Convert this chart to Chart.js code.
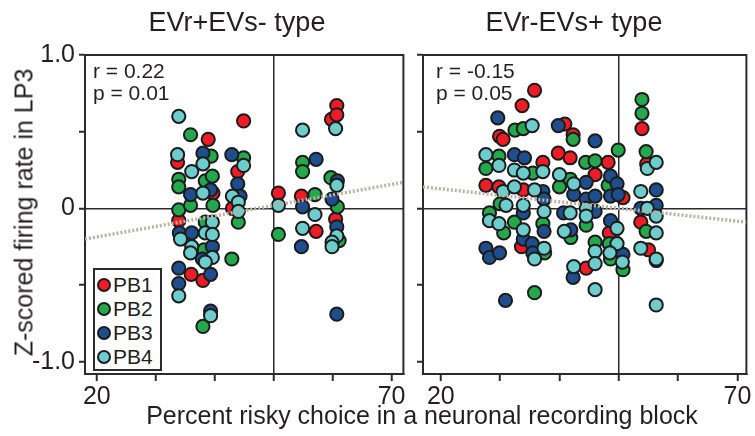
<!DOCTYPE html>
<html>
<head>
<meta charset="utf-8">
<script src="https://cdn.jsdelivr.net/npm/chart.js@4.4.1/dist/chart.umd.min.js"></script>
<style>
  html, body { margin: 0; padding: 0; background: #fff; }
  body { width: 755px; height: 436px; position: relative; overflow: hidden;
         font-family: "Liberation Sans", Arial, sans-serif; color: #231f20; }
  canvas { position: absolute; top: 0; }
  .txt { position: absolute; white-space: nowrap; line-height: 1; }
  .title { font-size: 27px; width: 300px; text-align: center; top: 9px; }
  .stat { font-size: 21px; line-height: 22px; top: 60px; }
  #legend { position: absolute; left: 93px; top: 268px; width: 65px; height: 99px;
            border: 2px solid #2b2b2b; background: #fff; }
  .row { position: absolute; left: 2px; height: 24px; line-height: 24px; font-size: 21px; }
  .dot { display: inline-block; width: 10px; height: 10px; border: 2px solid #1c1c1c;
         border-radius: 50%; vertical-align: middle; margin: -3px 2px 0 0; }
</style>
</head>
<body>
<canvas id="left" width="412" height="436" style="left:0"></canvas>
<canvas id="right" width="343" height="436" style="left:412px"></canvas>

<div class="txt title" style="left:87px">EVr+EVs- type</div>
<div class="txt title" style="left:424px">EVr-EVs+ type</div>
<div class="txt stat" style="left:93px">r = 0.22<br>p = 0.01</div>
<div class="txt stat" style="left:436px">r = -0.15<br>p = 0.05</div>
<div class="txt" style="font-size:25px; width:400px; text-align:center; left:-176px; top:200px; transform:rotate(-90deg)">Z-scored firing rate in LP3</div>
<div class="txt" style="font-size:25px; width:700px; text-align:center; left:72px; top:403px">Percent risky choice in a neuronal recording block</div>
<div id="legend"></div>

<script>
var xTicks = [20, 30, 40, 50, 60, 70];
var xTickLabels = [20, 70];
var yTicks = [-1, -0.5, 0, 0.5, 1];
var yTickLabels = { '1': '1.0', '0': '0', '-1': '-1.0' };
var seriesNames = ['PB1', 'PB2', 'PB3', 'PB4'];
var seriesColors = ['#ef1c26', '#25a84b', '#1f4e8e', '#6dcdcd'];

// EVr+EVs- type
var leftPB1 = [[33.7,0.30],[33.9,-0.08],[36.0,-0.43],[38.9,0.45],[39.7,0.10],[38.0,-0.47],[44.9,0.57],
  [43.9,0.24],[43.0,0.0],[50.8,0.10],[54.7,0.08],[57.2,-0.15],[60.7,0.67],[59.8,0.58],[60.7,0.61],[60.5,-0.07]];
var leftPB2 = [[33.9,0.19],[33.9,0.14],[33.9,-0.01],[35.9,0.48],[35.9,0.02],[39.4,0.34],[38.4,0.18],[39.6,0.21],
  [39.7,0.02],[38.4,-0.09],[38.2,-0.27],[38.0,-0.77],[44.9,0.33],[44.0,-0.09],[42.9,-0.33],[50.8,-0.17],
  [54.9,0.30],[54.9,0.24],[57.0,0.09],[59.7,0.20],[60.8,0.01],[61.1,-0.21]];
var leftPB3 = [[34.0,-0.16],[33.9,-0.39],[33.9,-0.49],[35.9,0.09],[36.1,-0.16],[38.0,0.36],[39.3,0.12],[39.6,-0.25],
  [37.9,-0.33],[39.3,-0.43],[39.3,-0.67],[42.9,0.35],[43.9,0.16],[44.3,0.08],[54.9,0.01],[57.2,0.32],
  [54.7,-0.25],[60.8,0.18],[59.9,0.06],[60.7,-0.12],[60.7,-0.69]];
var leftPB4 = [[33.9,0.60],[33.7,0.35],[34.2,-0.20],[33.9,-0.57],[36.1,0.24],[36.1,-0.25],[35.9,-0.29],[38.0,0.29],
  [38.0,0.10],[39.6,-0.09],[38.4,-0.16],[39.6,-0.17],[39.6,-0.32],[38.4,-0.35],[39.3,-0.70],[44.9,0.28],
  [43.0,0.08],[44.0,0.04],[44.0,-0.02],[50.8,0.02],[54.9,0.51],[57.0,-0.04],[54.9,-0.13],[60.5,0.52],
  [60.7,0.15],[60.7,-0.18],[59.9,-0.22],[59.9,-0.25]];
var leftTrend = [[18, -0.20], [72, 0.17]];

// EVr-EVs+ type
var rightPB1 = [[29.9,0.47],[30.5,0.45],[27.6,0.15],[29.8,0.14],[33.7,0.67],[35.8,0.77],[33.9,0.12],[33.6,-0.25],
  [37.2,0.30],[40.9,0.55],[42.3,0.48],[39.8,0.36],[41.8,0.33],[46.0,0.22],[44.5,-0.39],[48.2,0.30],
  [50.7,0.07],[48.4,-0.16],[53.9,0.52],[54.7,0.29],[53.7,-0.09],[55.0,-0.27]];
var rightPB2 = [[27.6,0.26],[28.2,-0.03],[29.8,0.34],[30.0,0.03],[30.6,-0.16],[32.5,0.51],[33.9,0.52],[35.5,0.23],
  [32.4,-0.09],[35.8,-0.55],[37.2,-0.10],[37.5,-0.29],[42.3,0.45],[40.0,0.14],[41.8,0.19],[41.9,-0.19],
  [44.4,0.30],[46.0,0.31],[44.5,-0.11],[46.0,-0.22],[49.9,0.38],[48.2,0.15],[48.4,-0.23],[48.6,-0.33],
  [50.7,-0.40],[53.9,0.71],[53.9,0.62],[54.6,0.37],[54.6,-0.15]];
var rightPB3 = [[29.6,0.59],[27.6,-0.26],[28.2,-0.32],[29.9,-0.29],[30.9,-0.60],[32.4,0.35],[34.1,0.33],[33.9,-0.03],
  [33.9,-0.20],[35.4,-0.23],[35.5,-0.29],[37.2,0.11],[37.4,0.06],[37.4,-0.15],[39.8,0.54],[42.4,0.09],
  [40.7,-0.03],[41.9,-0.14],[42.3,-0.45],[46.0,0.44],[44.5,0.17],[44.5,0.06],[46.0,0.08],[46.0,-0.02],
  [48.6,0.21],[49.7,0.16],[48.6,0.08],[49.9,0.09],[48.6,-0.08],[50.7,-0.30],[56.3,0.12],[53.7,0.0],
  [56.3,0.02],[56.3,-0.34]];
var rightPB4 = [[27.6,0.35],[28.2,-0.08],[29.8,0.28],[30.5,0.11],[31.0,0.02],[29.8,-0.10],[35.4,0.54],[32.4,0.25],
  [33.9,0.23],[32.4,0.14],[35.8,0.12],[33.9,0.02],[33.9,-0.14],[35.8,-0.33],[37.2,0.24],[37.4,-0.02],
  [37.4,-0.26],[40.0,0.22],[42.4,0.16],[41.8,-0.03],[40.8,-0.15],[42.4,-0.38],[44.5,0.0],[44.5,-0.05],
  [46.0,-0.28],[46.0,-0.36],[46.0,-0.53],[49.7,-0.13],[49.7,-0.23],[48.5,-0.29],[50.6,-0.35],[54.8,0.26],
  [56.3,0.30],[53.7,0.11],[54.8,0.0],[56.3,-0.05],[56.3,-0.16],[53.7,-0.26],[56.3,-0.33],[56.3,-0.63]];
var rightTrend = [[17, 0.14], [71.5, -0.09]];

var fontFamily = '"Liberation Sans", Arial, sans-serif';
var lineDark = '#2b2b2b';

// box around the plot area (top and right edges)
var framePlugin = {
  id: 'frame',
  beforeDatasetsDraw: function (chart) {
    var a = chart.chartArea, c = chart.ctx;
    c.save();
    c.strokeStyle = lineDark;
    c.lineWidth = 2;
    c.strokeRect(a.left, a.top, a.right - a.left, a.bottom - a.top);
    c.restore();
  }
};

function toXY(arr) {
  return arr.map(function (p) { return { x: p[0], y: p[1] }; });
}

function panel(id, sets, trend, xMin, xMax, yWidth, padRight) {
  var datasets = sets.map(function (pts, i) {
    return {
      label: seriesNames[i],
      data: toXY(pts),
      backgroundColor: seriesColors[i],
      borderColor: '#1c1c1c',
      borderWidth: 2,
      pointRadius: 6.6,
      pointHoverRadius: 6.6,
      order: 4 - i
    };
  });
  datasets.push({
    type: 'line',
    data: toXY(trend),
    showLine: true,
    borderColor: '#bbb19f',
    borderWidth: 3.5,
    borderDash: [2, 2],
    pointRadius: 0,
    fill: false,
    order: -1
  });

  new Chart(document.getElementById(id), {
    type: 'scatter',
    data: { datasets: datasets },
    plugins: [framePlugin],
    options: {
      responsive: false,
      animation: false,
      layout: { padding: { top: 55, left: 0, right: padRight, bottom: 28 } },
      plugins: { legend: { display: false }, tooltip: { enabled: false } },
      scales: {
        x: {
          type: 'linear', min: xMin, max: xMax,
          afterBuildTicks: function (s) { s.ticks = xTicks.map(function (v) { return { value: v }; }); },
          afterFit: function (s) { s.height = 34; s.paddingLeft = 0; s.paddingRight = 0; },
          grid: {
            color: function (ctx) { return ctx.tick && ctx.tick.value === 50 ? lineDark : 'rgba(0,0,0,0)'; },
            lineWidth: 1.5, tickColor: lineDark, tickWidth: 2, tickLength: 7
          },
          border: { color: lineDark, width: 2 },
          ticks: {
            autoSkip: false, maxRotation: 0, padding: 1, color: '#231f20',
            font: { family: fontFamily, size: 25 },
            callback: function (v) { return xTickLabels.indexOf(v) >= 0 ? String(v) : ''; }
          }
        },
        y: {
          min: -1.08, max: 1.0,
          afterBuildTicks: function (s) { s.ticks = yTicks.map(function (v) { return { value: v }; }); },
          afterFit: function (s) { s.width = yWidth; s.paddingTop = 0; s.paddingBottom = 0; },
          grid: {
            color: function (ctx) { return ctx.tick && ctx.tick.value === 0 ? lineDark : 'rgba(0,0,0,0)'; },
            lineWidth: 1.5, tickColor: lineDark, tickWidth: 2, tickLength: 6
          },
          border: { color: lineDark, width: 2 },
          ticks: {
            autoSkip: false, padding: 4, color: '#231f20',
            font: { family: fontFamily, size: 25 },
            callback: function (v) { return yWidth > 20 ? (yTickLabels[String(v)] || '') : ''; }
          }
        }
      }
    }
  });
}

panel('left', [leftPB1, leftPB2, leftPB3, leftPB4], leftTrend, 18, 72, 85, 5);
panel('right', [rightPB1, rightPB2, rightPB3, rightPB4], rightTrend, 17, 71.5, 11, 3);

// legend
var legend = document.getElementById('legend');
seriesNames.forEach(function (name, i) {
  var row = document.createElement('div');
  row.className = 'row';
  row.style.top = (3 + 24 * i) + 'px';
  row.innerHTML = '<span class="dot" style="background:' + seriesColors[i] + '"></span>' + name;
  legend.appendChild(row);
});
</script>
</body>
</html>
